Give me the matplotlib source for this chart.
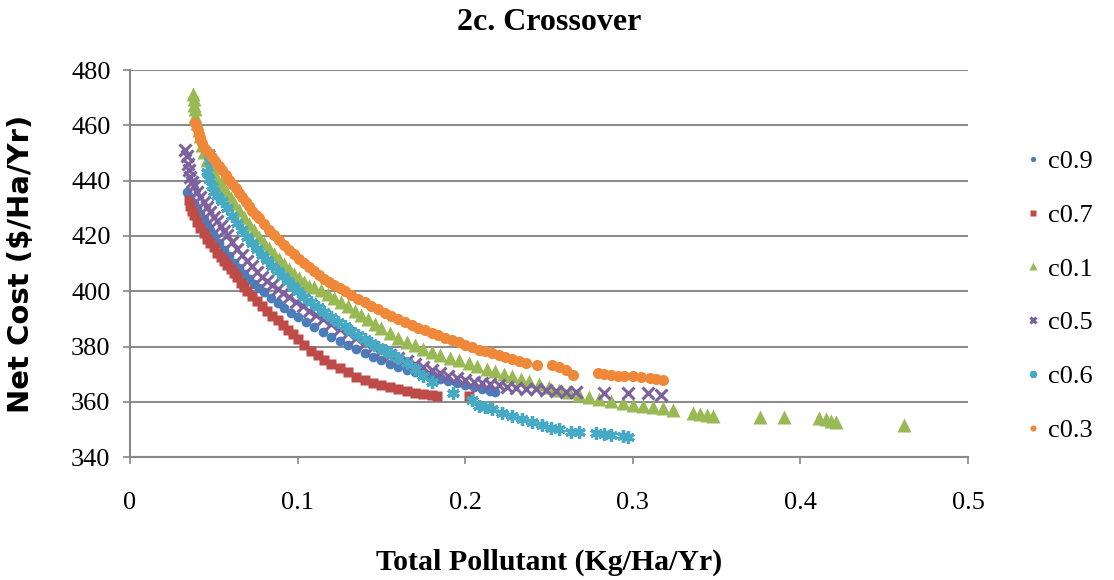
import matplotlib
matplotlib.use("Agg")
import matplotlib.pyplot as plt

# values
c09_x = [0.034, 0.036, 0.038, 0.040, 0.042, 0.044, 0.046, 0.048, 0.050, 0.053, 0.056, 0.059,
         0.062, 0.065, 0.068, 0.071, 0.074, 0.077, 0.080, 0.084, 0.088, 0.092, 0.096, 0.100,
         0.105, 0.110, 0.115, 0.120, 0.125, 0.130, 0.135, 0.140, 0.145, 0.150, 0.155, 0.160,
         0.165, 0.170, 0.175, 0.180, 0.185, 0.190, 0.195, 0.200, 0.205, 0.210, 0.215, 0.218]
c09_y = [436, 434, 432, 430, 428, 426, 424, 422, 420, 417.5, 415, 412.6,
         410.4, 408.3, 406.3, 404.5, 402.8, 401.2, 399.7, 397.7, 395.8, 394, 392.3, 390.7,
         388.8, 387, 385.3, 383.6, 382, 380.5, 379, 377.6, 376.3, 375, 373.8, 372.7,
         371.6, 370.6, 369.7, 368.9, 368.1, 367.4, 366.7, 366, 365.3, 364.6, 364, 363.7]

c07_x = [0.035, 0.036, 0.037, 0.038, 0.040, 0.042, 0.044, 0.046, 0.048, 0.050, 0.052, 0.054,
         0.056, 0.058, 0.060, 0.062, 0.064, 0.066, 0.068, 0.070, 0.073, 0.076, 0.079, 0.082,
         0.085, 0.088, 0.091, 0.094, 0.097, 0.100, 0.104, 0.108, 0.112, 0.116, 0.120, 0.125,
         0.130, 0.135, 0.140, 0.145, 0.150, 0.155, 0.160, 0.165, 0.170, 0.175, 0.180, 0.183, 0.202]
c07_y = [433, 431, 429, 427.5, 425, 423, 421, 419, 417.5, 416, 414, 412.5,
         411, 409.5, 408, 406.5, 405, 403, 401.5, 400, 398.2, 396.4, 394.6, 392.9,
         391.2, 389.5, 387.8, 386.1, 384.4, 382.8, 380.5, 378.5, 376.8, 375.2, 373.8, 372.2,
         370.6, 369.1, 367.8, 366.8, 366, 365.2, 364.5, 363.8, 363.2, 362.7, 362.3, 362, 362]

c01_x = [0.0375, 0.038, 0.038, 0.0385, 0.039, 0.040, 0.041, 0.042, 0.043, 0.044, 0.046, 0.048,
         0.050, 0.052, 0.054, 0.056, 0.058, 0.060, 0.062, 0.065, 0.068, 0.071, 0.074, 0.077,
         0.080, 0.083, 0.086, 0.089, 0.092, 0.095, 0.098, 0.101, 0.104, 0.107, 0.110, 0.114,
         0.118, 0.122, 0.126, 0.130, 0.134, 0.138, 0.142, 0.146, 0.150, 0.155, 0.160, 0.165,
         0.170, 0.175, 0.180, 0.185, 0.191, 0.196, 0.202, 0.207, 0.213, 0.218, 0.223, 0.228,
         0.233, 0.238, 0.244, 0.250, 0.256, 0.262, 0.268, 0.274, 0.280, 0.287, 0.294, 0.300,
         0.306, 0.312, 0.318, 0.324, 0.336, 0.340, 0.344, 0.348, 0.376, 0.390, 0.411, 0.415,
         0.418, 0.421, 0.462]
c01_y = [471.5, 469.5, 467.5, 466, 463.5, 461, 458.5, 456, 453, 450.5, 447.5, 445,
         442.8, 440.8, 439, 437.2, 435.5, 433.8, 432, 429.5, 427, 424.5, 422, 419.7,
         417.5, 415.5, 413.5, 411.6, 409.8, 408, 406.3, 404.7, 403.2, 401.9, 401.5, 400.3,
         399, 397.6, 396.1, 394.6, 393, 391.4, 389.8, 388.3, 386.8, 385, 383.2, 381.5,
         380.4, 379.2, 378, 377, 376, 375, 374, 373, 372, 371, 370, 369.2,
         368.3, 367.5, 366.5, 365.4, 364.4, 363.4, 362.5, 361.7, 361, 360.2, 359.6, 359,
         358.5, 358, 357.6, 357.2, 356, 355.6, 355.3, 355, 354.6, 354.5, 354, 353.6,
         353.2, 352.6, 351.6]

c05_x = [0.033, 0.034, 0.0345, 0.035, 0.036, 0.037, 0.038, 0.040, 0.042, 0.044, 0.046, 0.048,
         0.050, 0.052, 0.054, 0.056, 0.058, 0.061, 0.064, 0.067, 0.070, 0.073, 0.076, 0.079,
         0.082, 0.085, 0.088, 0.091, 0.095, 0.099, 0.103, 0.107, 0.111, 0.115, 0.120, 0.125,
         0.130, 0.135, 0.140, 0.145, 0.150, 0.155, 0.160, 0.165, 0.170, 0.175, 0.180, 0.185,
         0.190, 0.195, 0.200, 0.205, 0.210, 0.215, 0.220, 0.225, 0.230, 0.236, 0.242, 0.248,
         0.254, 0.260, 0.266, 0.283, 0.297, 0.309, 0.317]
c05_y = [451, 449, 446, 444, 441.5, 439.5, 438, 436, 434, 432.3, 430.5, 428.8,
         427, 425.4, 423.6, 421.8, 420.2, 417.8, 415.4, 413.2, 411, 409, 407, 405.2,
         403.6, 402.2, 400.8, 399.5, 397.8, 396.2, 394.6, 393, 391.5, 390, 388.2, 386.5,
         384.8, 383.1, 381.3, 379.8, 378.4, 377.1, 375.9, 374.7, 373.6, 372.5, 371.4, 370.4,
         369.4, 368.6, 367.9, 367.3, 366.8, 366.3, 365.9, 365.5, 365.1, 364.8, 364.5, 364.2,
         364, 363.7, 363.4, 363, 363, 363, 362.5]

c06_x = [0.047, 0.0475, 0.046, 0.047, 0.049, 0.050, 0.052, 0.055, 0.058, 0.061, 0.064, 0.067,
         0.070, 0.073, 0.076, 0.079, 0.082, 0.085, 0.088, 0.091, 0.094, 0.097, 0.100, 0.104,
         0.108, 0.112, 0.116, 0.120, 0.124, 0.128, 0.132, 0.136, 0.140, 0.144, 0.148, 0.152,
         0.156, 0.160, 0.165, 0.170, 0.175, 0.180, 0.193, 0.204, 0.208, 0.212, 0.216, 0.222,
         0.228, 0.234, 0.240, 0.246, 0.251, 0.256, 0.263, 0.268, 0.278, 0.283, 0.287, 0.294, 0.297]
c06_y = [450, 447, 443, 440.5, 438, 436, 434.5, 432.5, 430, 427.3, 424.6, 422,
         419.5, 417.3, 415.2, 413.2, 411.2, 409.2, 407.3, 405.4, 403.6, 401.8, 400, 398,
         396, 394.2, 392.4, 390.6, 388.9, 387.3, 385.7, 384.2, 382.7, 381.3, 380, 378.6,
         377.2, 375.8, 374, 372, 369.5, 367.2, 363, 360.5, 358.6, 358, 357.5, 356,
         355, 353.8, 352.5, 351.5, 350.6, 350, 349.2, 349, 348.6, 348.3, 348, 347.5, 347.4]

c03_x = [0.039, 0.040, 0.041, 0.042, 0.043, 0.045, 0.047, 0.049, 0.051, 0.053, 0.055, 0.057,
         0.059, 0.061, 0.063, 0.065, 0.067, 0.069, 0.071, 0.073, 0.075, 0.077, 0.080, 0.083,
         0.086, 0.089, 0.092, 0.095, 0.098, 0.101, 0.104, 0.107, 0.110, 0.113, 0.116, 0.119,
         0.122, 0.125, 0.128, 0.132, 0.136, 0.140, 0.144, 0.148, 0.152, 0.156, 0.160, 0.164,
         0.168, 0.172, 0.176, 0.180, 0.184, 0.188, 0.192, 0.196, 0.200, 0.204, 0.208, 0.212,
         0.216, 0.220, 0.224, 0.228, 0.232, 0.236, 0.243, 0.252, 0.256, 0.260, 0.264, 0.279,
         0.283, 0.287, 0.291, 0.295, 0.300, 0.305, 0.310, 0.314, 0.318]
c03_y = [461, 459, 457, 455, 453.5, 451.5, 450, 448.5, 447, 445.3, 443.7, 442,
         440.4, 438.8, 437.2, 435.6, 434, 432.4, 430.8, 429.2, 427.7, 426.4, 424.3, 422.3,
         420.4, 418.5, 416.7, 415, 413.3, 411.7, 410.2, 408.7, 407.3, 405.9, 404.6, 403.3,
         402.1, 401, 400, 398.6, 397.3, 396, 394.7, 393.5, 392.3, 391.1, 390, 388.9,
         387.8, 386.8, 385.8, 384.9, 384, 383.1, 382.3, 381.5, 380.7, 379.8, 378.9, 378.2,
         377.5, 376.8, 376.1, 375.4, 374.8, 374.2, 373.3, 373.3, 372.6, 371.5, 369.8, 370.4,
         370.1, 369.7, 369.3, 369.5, 369.2, 368.8, 368.5, 368.1, 367.8]

x_ticks = [0, 0.1, 0.2, 0.3, 0.4, 0.5]
x_tick_labels = ['0', '0.1', '0.2', '0.3', '0.4', '0.5']
y_ticks = [340, 360, 380, 400, 420, 440, 460, 480]

plt.rcParams['font.family'] = ['Liberation Serif', 'DejaVu Serif']

fig = plt.figure(figsize=(11.14, 5.8), dpi=100)
ax = fig.add_axes([0.1167, 0.212, 0.7523, 0.667])

ax.plot(c09_x, c09_y, ls='none', marker='o', ms=7, color='#4a7ebb', mec='none', label='c0.9')
ax.plot(c07_x, c07_y, ls='none', marker='s', ms=7, color='#be4b48', mec='none', label='c0.7')
ax.plot(c01_x, c01_y, ls='none', marker='^', ms=10, color='#98b954', mec='none', label='c0.1')
ax.plot(c05_x, c05_y, ls='none', marker='x', ms=8, mew=2.2, color='#7d60a0', label='c0.5')
ax.plot(c06_x, c06_y, ls='none', marker=(6, 2, 0), ms=9, mew=2.4, color='#46aac5', label='c0.6')
ax.plot(c03_x, c03_y, ls='none', marker='o', ms=8, color='#f0883a', mec='none', label='c0.3')

ax.set_xlim(0, 0.5)
ax.set_ylim(340, 480)
ax.set_xticks(x_ticks)
ax.set_xticklabels(x_tick_labels)
ax.set_yticks(y_ticks)
ax.tick_params(axis='both', labelsize=19, color='#888888', length=5, width=1.2)
ax.tick_params(axis='x', pad=20)
ax.tick_params(axis='y', pad=9)
ax.yaxis.grid(True, color='#8c8c8c', lw=1.5)
ax.set_axisbelow(True)
for s in ['top', 'right']:
    ax.spines[s].set_visible(False)
ax.spines['left'].set_color('#888888')
ax.spines['bottom'].set_color('#888888')
ax.spines['left'].set_linewidth(1.5)
ax.spines['bottom'].set_linewidth(1.5)

ax.set_title('2c. Crossover', fontsize=23, fontweight='bold', pad=29)
ax.set_xlabel('Total Pollutant (Kg/Ha/Yr)', fontsize=21.5, fontweight='bold', labelpad=25)
ax.set_ylabel('Net Cost ($/Ha/Yr)', fontsize=21, fontweight='bold', labelpad=26,
              family=['DejaVu Sans'])

fig.legend(loc='center left', bbox_to_anchor=(0.918, 0.49), frameon=False, fontsize=19,
           labelspacing=1.15, handletextpad=0.15, handlelength=0.8, borderpad=0,
           borderaxespad=0, markerscale=0.55)

fig.savefig('out.png', dpi=100)
